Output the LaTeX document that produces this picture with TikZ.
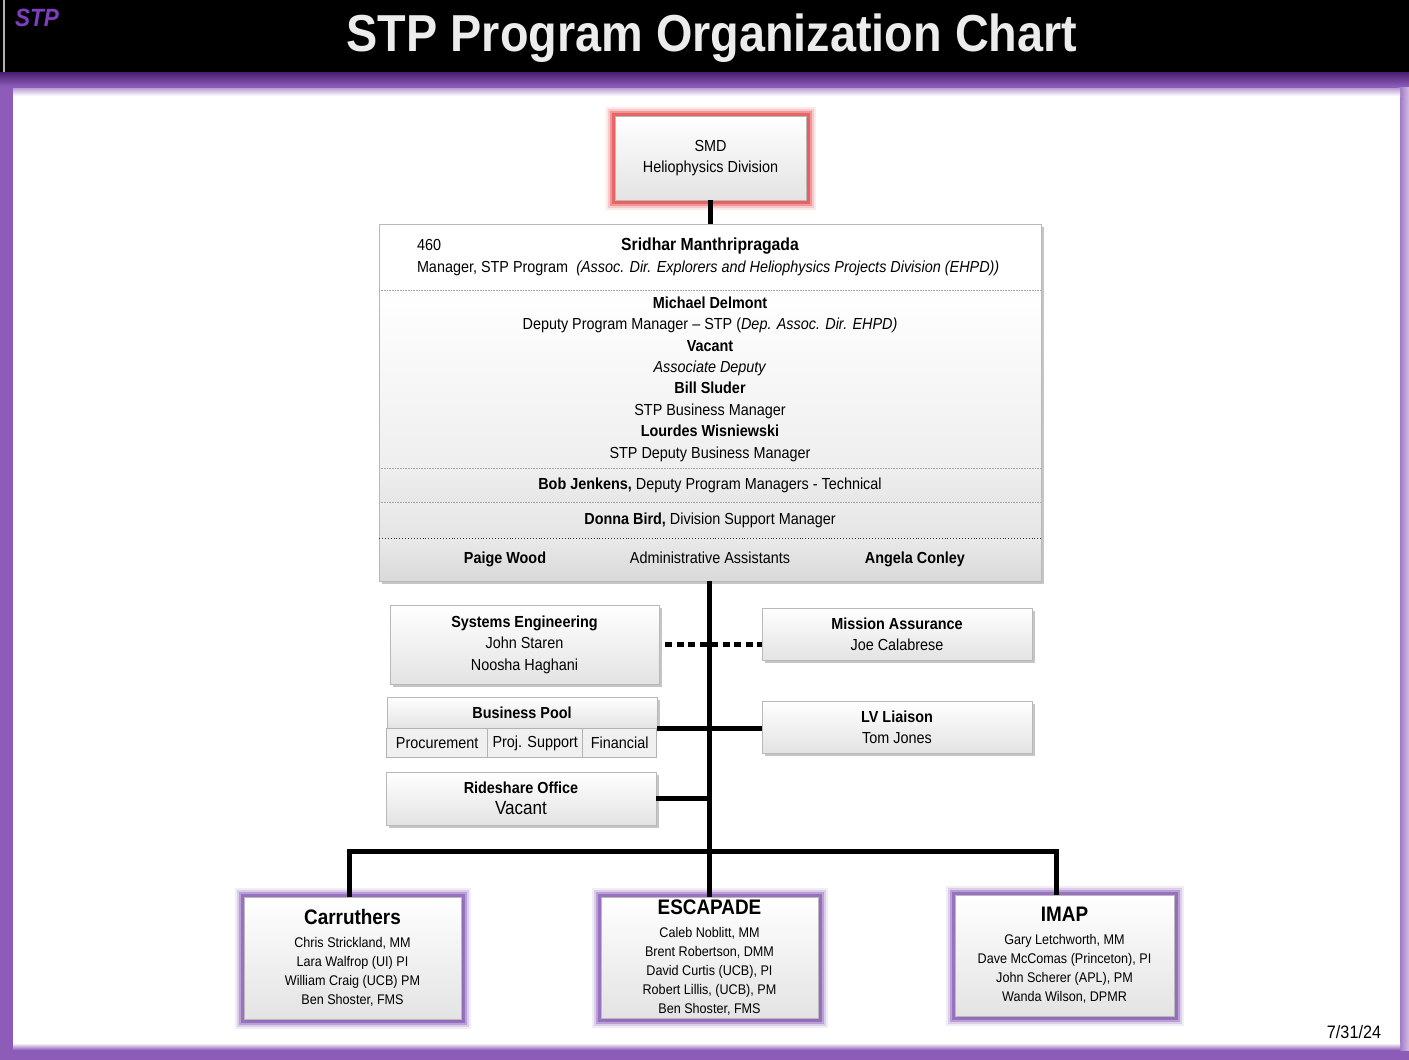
\documentclass[tikz,border=0pt]{standalone}
\usepackage{fontspec}
\setmainfont{Liberation Sans}[FakeStretch=0.9]
\usepackage{xcolor}
\usetikzlibrary{positioning,shadows,calc}
\definecolor{stppurple}{HTML}{7E3FBF}
\definecolor{framepurple}{HTML}{8C5CB8}
\definecolor{darkpurple}{HTML}{4A1D6E}
\definecolor{glowpurple}{HTML}{9066BC}
\definecolor{glowred}{HTML}{E8585A}
\newcommand{\projname}[1]{{\fontsize{21}{24}\selectfont\bfseries #1}}

\begin{document}
\begin{tikzpicture}[
  x=1pt, y=-1pt,
  font=\fontsize{16}{21.4}\selectfont,
  box/.style={draw=gray!55, line width=.6pt, align=center, inner sep=0pt, top color=white, bottom color=gray!22,
    drop shadow={shadow xshift=2.5pt, shadow yshift=-2.5pt, opacity=.45}},
  glowbox/.style={box,
    preaction={draw=#1, line width=19pt, opacity=.12, rounded corners=6pt},
    preaction={draw=#1, line width=15pt, opacity=.22, rounded corners=4pt},
    preaction={draw=#1, line width=11pt, opacity=.45, rounded corners=2pt},
    preaction={draw=#1, line width=7pt, opacity=.8}},
  band/.style={draw=none, inner sep=0pt, outer sep=0pt, minimum width=662pt, align=center},
  cell/.style={draw=gray!60, line width=.6pt, inner sep=0pt, outer sep=0pt, minimum height=29pt, fill=gray!12},
  conn/.style={line width=5pt},
  dotconn/.style={line width=5pt, dash pattern=on 7pt off 4.5pt},
  sepline/.style={densely dotted, gray!70, line width=.6pt},
  small/.style={font=\fontsize{14}{19}\selectfont}
]
\useasboundingbox (0,0) rectangle (1409,1060);

% frame and header
\fill[framepurple] (0,0) rectangle (1409,1060);
\shade[left color=framepurple, right color=framepurple!40] (1396,84) rectangle (1409,1050);
\fill[white] (13,90) rectangle (1400,1047);
\shade[top color=framepurple!60, bottom color=white] (13,88) rectangle (1400,96);
\shade[top color=white, bottom color=framepurple] (13,1043) rectangle (1400,1050);
\fill[black] (0,0) rectangle (1409,72);
\shade[top color=darkpurple, bottom color=framepurple] (0,72) rectangle (1409,86);
\fill[gray!60] (3,0) rectangle (4.5,72);
\node[text=stppurple, font=\fontsize{25}{28}\selectfont\bfseries\itshape] (logo) at (37,18) {STP};
\node[text=gray!15, font=\fontsize{52}{56}\selectfont\bfseries] (title) at (712,38) {STP Program Organization Chart};

% division
\node[glowbox=glowred, minimum width=191pt, minimum height=84pt] (smd) at (710.5,158) {SMD\\Heliophysics Division};

% program office
\node[box, minimum width=662pt, minimum height=357pt, anchor=north] (stp) at (710,224) {};
\node[band, minimum height=66pt, fill=white, anchor=north] (mgr) at (stp.north) {%
  \makebox[586pt][s]{460\hfill{\fontsize{17.5}{20}\selectfont\bfseries Sridhar Manthripragada}\hfill\phantom{460}}\\[1pt]
  \makebox[586pt][l]{Manager, STP Program\ \ \textit{(Assoc. Dir. Explorers and Heliophysics Projects Division (EHPD))}}};
\node[band, minimum height=178pt, top color=white, bottom color=gray!13, below=0pt of mgr] (dep) {%
  \textbf{Michael Delmont}\\Deputy Program Manager – STP (\textit{Dep. Assoc. Dir. EHPD)}\\
  \textbf{Vacant}\\\textit{Associate Deputy}\\
  \textbf{Bill Sluder}\\STP Business Manager\\
  \textbf{Lourdes Wisniewski}\\STP Deputy Business Manager};
\node[band, minimum height=34pt, top color=gray!13, bottom color=gray!19, below=0pt of dep] (tech) {\textbf{Bob Jenkens,} Deputy Program Managers - Technical};
\node[band, minimum height=36pt, top color=gray!15, bottom color=gray!21, below=0pt of tech] (sup) {\textbf{Donna Bird,} Division Support Manager};
\node[band, minimum height=43pt, top color=gray!17, bottom color=gray!30, below=0pt of sup] (adm) {%
  \makebox[160pt]{\bfseries Paige Wood}\makebox[250pt]{Administrative Assistants}\makebox[160pt]{\bfseries Angela Conley}};
\draw[gray!55, line width=.6pt] (mgr.north west) rectangle (adm.south east);
\draw[sepline] (dep.north west) -- (dep.north east);
\draw[sepline] (tech.north west) -- (tech.north east);
\draw[sepline] (sup.north west) -- (sup.north east);
\draw[dotted, black!80, line width=.9pt] (adm.north west) -- (adm.north east);

% staff offices
\node[box, minimum width=269pt, minimum height=79pt] (se) at (524.5,644.5) {\textbf{Systems Engineering}\\John Staren\\Noosha Haghani};
\node[box, minimum width=270pt, minimum height=52pt] (ma) at (897,634) {\textbf{Mission Assurance}\\Joe Calabrese};
\node[box, minimum width=270pt, minimum height=31pt, anchor=north] (bp) at (522,697) {\textbf{Business Pool}};
\node[cell, minimum width=101pt, anchor=north west] (proc) at (bp.south west) {Procurement};
\node[cell, minimum width=95pt, right=0pt of proc] (psup) {Proj. Support};
\node[cell, minimum width=74pt, right=0pt of psup] (fin) {Financial};
\node[box, minimum width=270pt, minimum height=52pt] (lv) at (897,727) {\textbf{LV Liaison}\\Tom Jones};
\node[box, minimum width=270pt, minimum height=53pt] (rs) at (521,798.5) {\textbf{Rideshare Office}\\{\fontsize{19}{21}\selectfont Vacant}};

% missions
\node[glowbox=glowpurple, small, minimum width=217pt, minimum height=122pt] (car) at (352.5,958) {%
  \projname{Carruthers}\\[4pt]Chris Strickland, MM\\Lara Walfrop (UI) PI\\William Craig (UCB) PM\\Ben Shoster, FMS};
\node[glowbox=glowpurple, small, minimum width=217pt, minimum height=121pt] (esc) at (709.5,958) {%
  \projname{ESCAPADE}\\[4pt]Caleb Noblitt, MM\\Brent Robertson, DMM\\David Curtis (UCB), PI\\Robert Lillis, (UCB), PM\\Ben Shoster, FMS};
\node[glowbox=glowpurple, small, minimum width=219pt, minimum height=121pt] (imap) at (1064.5,955.5) {%
  \projname{IMAP}\\[4pt]Gary Letchworth, MM\\Dave McComas (Princeton), PI\\John Scherer (APL), PM\\Wanda Wilson, DPMR};
\node[font=\fontsize{18}{20}\selectfont] (date) at (1354,1032) {7/31/24};

% connectors
\coordinate (bar) at (709,851);
\coordinate (barl) at (349,851);
\coordinate (barr) at (1056,851);
\draw[conn] (smd.south) -- (smd.south |- stp.north);
\draw[conn] (adm.south -| bar) -- (esc.north -| bar);
\draw[conn] (barl |- car.north) -- (barl) -- (barr) -- (barr |- imap.north);
\draw[dotconn] ([xshift=6pt]se.east) -- (ma.west |- se.east);
\draw[conn] (bp.south east) -- (lv.west |- bp.south east);
\draw[conn] (rs.east) -- (rs.east -| bar);
\end{tikzpicture}
\end{document}
